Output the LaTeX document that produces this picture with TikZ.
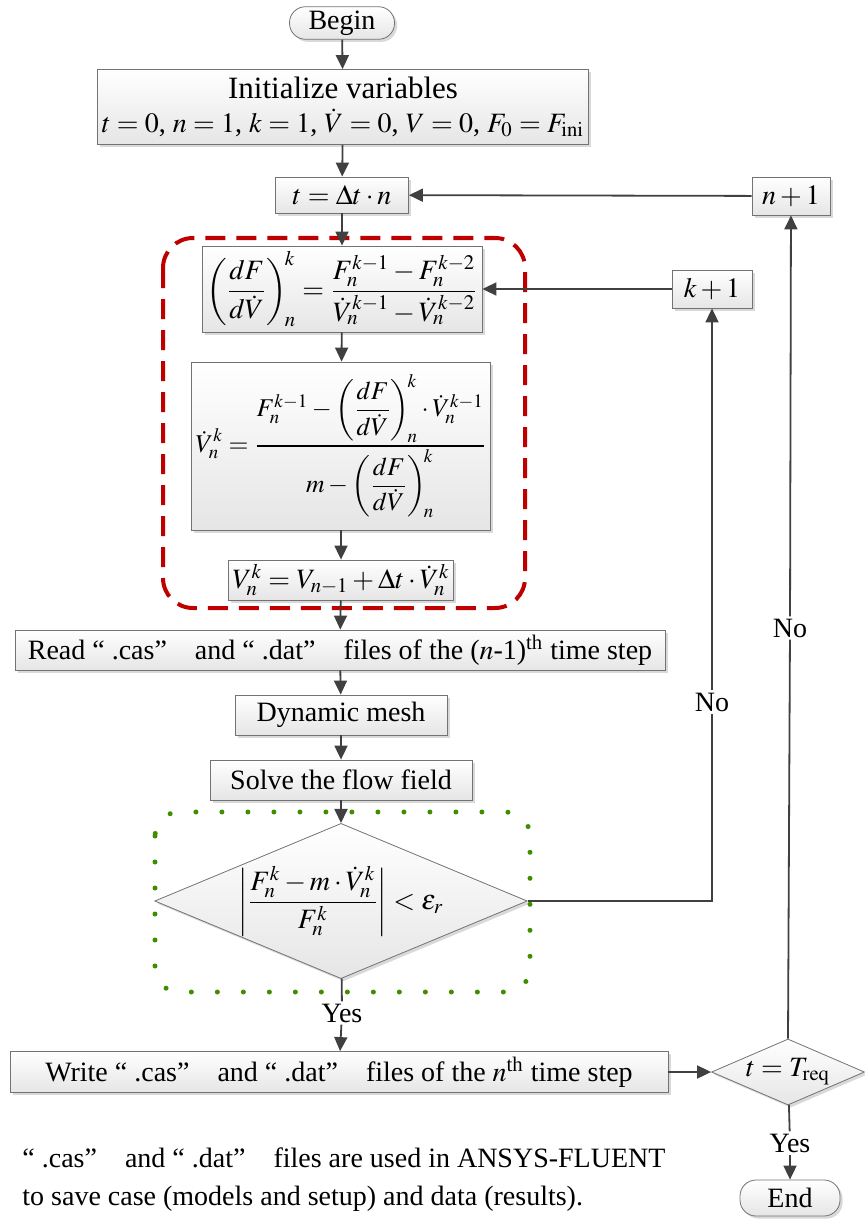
\documentclass[tikz,border=0pt]{standalone}
\usepackage{mathptmx}
\usepackage{fontspec}
\setmainfont{Liberation Serif}
\usetikzlibrary{arrows.meta,shapes.geometric,shadows,positioning}

\newcommand{\dFdV}{\left(\displaystyle\frac{dF}{d\dot V}\right)_{\!n}^{\!k}}

\begin{document}
\begin{tikzpicture}[
    x=0.5pt, y=-0.5pt,
    font=\fontsize{14}{17}\selectfont,
    box/.style={draw=black!55, top color=white, bottom color=black!10,
                drop shadow={shadow xshift=1.3pt, shadow yshift=-1.3pt,
                             fill=black!25, opacity=0.6},
                inner sep=2pt, align=center, anchor=center},
    term/.style={box, rounded corners=8pt},
    dec/.style={box, diamond, inner sep=0pt},
    flow/.style={draw=black!75, line width=0.9pt,
                 -{Triangle[length=7pt,width=6.5pt]}},
    line/.style={draw=black!75, line width=0.9pt},
    lbl/.style={inner sep=1pt}
  ]
  \useasboundingbox (0,0) rectangle (865,1230);

  % main column
  \node[term, minimum width=52.5pt, minimum height=16pt] (begin) at (342,23) {Begin};
  \node[box, minimum width=238.5pt, minimum height=37.5pt] (init) at (343,107)
    {{\fontsize{15.5}{18}\selectfont Initialize variables}\\
     $t=0$, $n=1$, $k=1$, $\dot V=0$, $V=0$, $F_0=F_{\mathrm{ini}}$};
  \node[box, minimum width=66.5pt, minimum height=18pt] (tstep) at (342,195) {$t=\Delta t\cdot n$};
  \node[box, minimum width=140pt, minimum height=43pt] (slope) at (342,289)
    {$\displaystyle \dFdV=\frac{F_n^{k-1}-F_n^{k-2}}{\dot V_n^{k-1}-\dot V_n^{k-2}}$};
  \node[box, minimum width=145.5pt, minimum height=84pt,
        font=\fontsize{12.8}{15}\selectfont] (accel) at (341,446)
    {$\displaystyle \dot V_n^k=\frac{F_n^{k-1}-\dFdV\cdot\dot V_n^{k-1}}{m-\dFdV}$};
  \node[box, minimum width=106pt, minimum height=20pt] (veloc) at (341,580)
    {$V_n^k=V_{n-1}+\Delta t\cdot\dot V_n^k$};
  \node[box, minimum width=325pt, minimum height=20pt] (read) at (340,650)
    {Read ``\ .cas''\quad and ``\ .dat''\quad files of the ($n$-1)\textsuperscript{th} time step};
  \node[box, minimum width=106pt, minimum height=20pt] (mesh) at (341,715) {Dynamic mesh};
  \node[box, minimum width=131pt, minimum height=20pt] (solve) at (341,780) {Solve the flow field};
  \node[dec, aspect=2.4, minimum width=178.5pt, minimum height=74pt] (conv) at (341,901)
    {$\displaystyle\left|\frac{F_n^k-m\cdot\dot V_n^k}{F_n^k}\right|<\varepsilon_r$};
  \node[box, minimum width=329pt, minimum height=20.5pt] (write) at (339,1072)
    {Write ``\ .cas''\quad and ``\ .dat''\quad files of the $n$\textsuperscript{th} time step};

  % right column
  \node[box, minimum width=39pt, minimum height=19pt] (nnext) at (791,196) {$n+1$};
  \node[box, minimum width=40pt, minimum height=19pt] (knext) at (712,289) {$k+1$};
  \node[dec, aspect=2.3, minimum width=76.5pt, minimum height=33pt] (tend) at (788,1072) {$t=T_{\mathrm{req}}$};
  \node[term, minimum width=50pt, minimum height=18pt] (end) at (790,1198) {End};

  % labels
  \node[lbl] (yesA) at (342,1013) {Yes};
  \node[lbl] (yesB) at (790,1143) {Yes};
  \node[lbl] (noA) at (712,702) {No};
  \node[lbl] (noB) at (790,628) {No};

  % grouping frames
  \draw[red!75!black, line width=2pt, dash pattern=on 10pt off 5.5pt,
        rounded corners=15pt] (163,238) rectangle (525,608);
  \draw[green!40!olive!80!black, line width=2.5pt, line cap=round,
        dash pattern=on 0pt off 13pt, rounded corners=12pt] (155,812) rectangle (530,992);

  % connectors
  \draw[flow] (begin) -- (init);
  \draw[flow] (init) -- (tstep);
  \draw[flow] (tstep) -- (slope);
  \draw[flow] (slope) -- (accel);
  \draw[flow] (accel) -- (veloc);
  \draw[flow] (veloc) -- (read);
  \draw[flow] (read) -- (mesh);
  \draw[flow] (mesh) -- (solve);
  \draw[flow] (solve) -- (conv);
  \draw[line] (conv) -- (yesA);
  \draw[flow] (yesA) -- (write);
  \draw[flow] (write) -- (tend);
  \draw[line] (tend) -- (yesB);
  \draw[flow] (yesB) -- (end);
  \draw[line] (conv.east) -| (noA);
  \draw[flow] (noA) -- (knext);
  \draw[flow] (knext) -- (slope);
  \draw[line] (tend.north) -- (noB);
  \draw[flow] (noB) -- (nnext);
  \draw[flow] (nnext) -- (tstep);

  % note
  \node[anchor=west, align=left, inner sep=0pt] (note) at (22,1180)
    {``\ .cas''\quad and ``\ .dat''\quad files are used in ANSYS-FLUENT\\[2pt]
     to save case (models and setup) and data (results).};
\end{tikzpicture}
\end{document}
